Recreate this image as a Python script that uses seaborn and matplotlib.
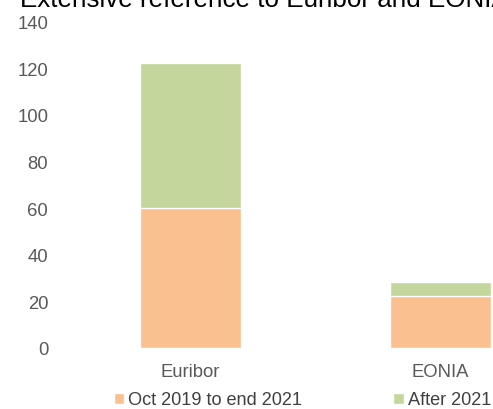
import matplotlib
matplotlib.use("Agg")
import matplotlib.pyplot as plt
from matplotlib.patches import Patch
import seaborn as sns

# data
categories = ["Euribor", "EONIA"]
oct2019_to_2021 = [60.2, 22.4]
after_2021 = [61.8, 5.8]
totals = [a + b for a, b in zip(oct2019_to_2021, after_2021)]
yticks = [0, 20, 40, 60, 80, 100, 120, 140]

orange = "#FAC090"
green = "#C3D69B"

sns.set_style("white")
plt.rcParams["font.family"] = ["Liberation Sans", "DejaVu Sans"]

fig = plt.figure(figsize=(4.93, 4.10), dpi=100)
ax = fig.add_axes([65.5 / 493, 61 / 410, 500 / 493, 326.5 / 410])

# stacked bars: draw totals in green, then the lower segment in orange on top
sns.barplot(x=categories, y=totals, color=green, width=0.404, saturation=1, ax=ax)
sns.barplot(x=categories, y=oct2019_to_2021, color=orange, width=0.404, saturation=1, ax=ax)

ax.set_xlim(-0.5, 1.5)
ax.set_ylim(0, 140)
ax.set_yticks(yticks)
ax.tick_params(axis="y", length=0, pad=12.5, labelsize=13.3, labelcolor="#595959")
ax.tick_params(axis="x", length=0, pad=11, labelsize=13.3, labelcolor="#595959")
ax.set_xlabel("")
ax.set_ylabel("")
for s in ax.spines.values():
    s.set_visible(False)

fig.text(20 / 493, 1 - 7 / 410, "Extensive reference to Euribor and EONIA",
         fontsize=18.7, color="black", ha="left", va="baseline")

handles = [Patch(facecolor=orange, label="Oct 2019 to end 2021"),
           Patch(facecolor=green, label="After 2021")]
fig.legend(handles=handles, loc="center left", bbox_to_anchor=(114 / 493, 1 - 401 / 410),
           ncol=2, frameon=False, fontsize=13.1, labelcolor="#404040",
           handlelength=0.56, handleheight=0.56, handletextpad=0.23,
           columnspacing=5.0, borderpad=0, borderaxespad=0)

fig.savefig("out.png", dpi=100)
